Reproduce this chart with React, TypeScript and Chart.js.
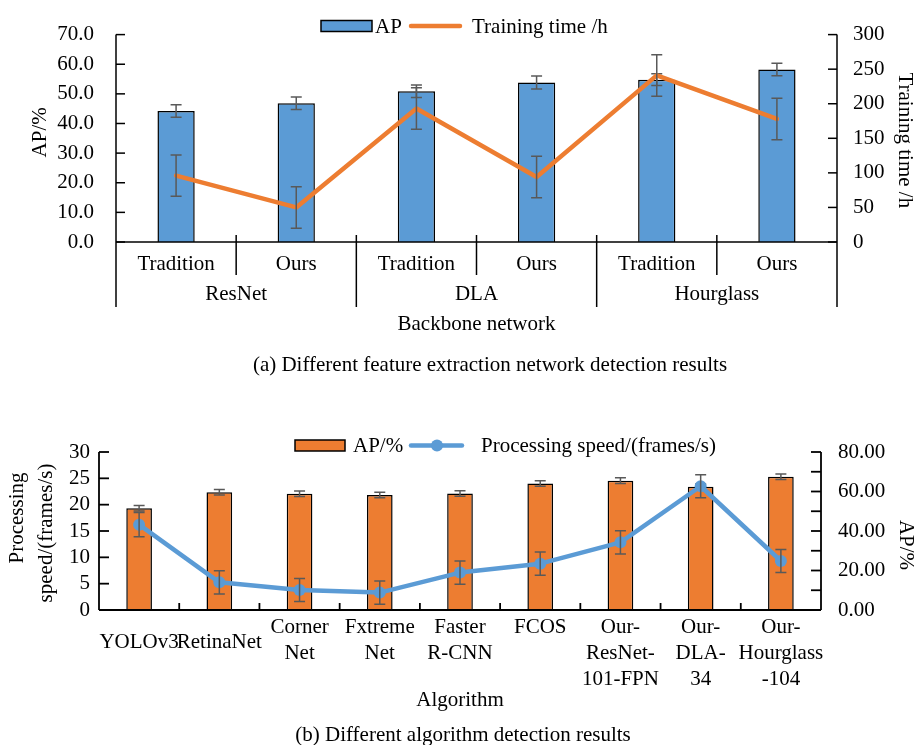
import React, { useEffect, useRef } from 'react';
import { Chart, registerables } from 'chart.js';

Chart.register(...registerables);

// ---------- Data: (a) backbone comparison ----------
const backboneCategories = ['Tradition', 'Ours', 'Tradition', 'Ours', 'Tradition', 'Ours'];
const backboneGroups = ['ResNet', 'DLA', 'Hourglass'];
const apBackbone = [44.2, 46.8, 50.9, 53.8, 54.8, 58.2];
const apBackboneErr = [2.1, 2.1, 2.1, 2.2, 2.0, 2.1];
const trainingTime = [96, 50, 193, 94, 241, 178];
const trainingTimeErr = [30, 30, 30, 30, 30, 30];

// ---------- Data: (b) algorithm comparison ----------
const algorithms = [
  ['YOLOv3'],
  ['RetinaNet'],
  ['Corner', 'Net'],
  ['Fxtreme', 'Net'],
  ['Faster', 'R-CNN'],
  ['FCOS'],
  ['Our-', 'ResNet-', '101-FPN'],
  ['Our-', 'DLA-', '34'],
  ['Our-', 'Hourglass', '-104'],
];
const apAlgorithm = [51.5, 59.6, 58.9, 58.2, 59.0, 64.0, 65.5, 62.4, 67.5];
const apAlgorithmErr = [1.4, 1.4, 1.4, 1.4, 1.4, 1.4, 1.4, 1.4, 1.4];
const speed = [16.2, 5.25, 3.8, 3.3, 7.1, 8.8, 12.85, 23.5, 9.3];
const speedErr = [2.3, 2.2, 2.2, 2.2, 2.2, 2.2, 2.2, 2.2, 2.2];

// ---------- Style ----------
const FONT = '"Liberation Serif", "Times New Roman", Times, serif';
const FS = 21;
const BLUE = '#5B9BD5';
const ORANGE = '#ED7D31';
const ERR = '#595959';

Chart.defaults.font.family = FONT;
Chart.defaults.font.size = FS;
Chart.defaults.color = '#000';

const errorBarPlugin = {
  id: 'errorBars',
  afterDatasetDraw(chart: any, args: any) {
    const ds = chart.data.datasets[args.index];
    const errs = ds.errors;
    if (!errs) return;
    const meta = args.meta;
    const scale = chart.scales[meta.yAxisID];
    const ctx = chart.ctx;
    ctx.save();
    ctx.strokeStyle = ERR;
    ctx.lineWidth = 1.5;
    meta.data.forEach((el: any, i: number) => {
      const v = ds.data[i];
      const e = errs[i];
      const x = el.x;
      const yTop = scale.getPixelForValue(v + e);
      const yBot = scale.getPixelForValue(v - e);
      ctx.beginPath();
      ctx.moveTo(x, yTop); ctx.lineTo(x, yBot);
      ctx.moveTo(x - 5.5, yTop); ctx.lineTo(x + 5.5, yTop);
      ctx.moveTo(x - 5.5, yBot); ctx.lineTo(x + 5.5, yBot);
      ctx.stroke();
    });
    ctx.restore();
  },
};

function seg(ctx: CanvasRenderingContext2D, x1: number, y1: number, x2: number, y2: number) {
  ctx.beginPath();
  ctx.moveTo(x1, y1);
  ctx.lineTo(x2, y2);
  ctx.stroke();
}

function rotText(ctx: CanvasRenderingContext2D, text: string, x: number, y: number, angle: number) {
  ctx.save();
  ctx.translate(x, y);
  ctx.rotate(angle);
  ctx.textAlign = 'center';
  ctx.textBaseline = 'middle';
  ctx.fillText(text, 0, 0);
  ctx.restore();
}

const decorA = {
  id: 'decorA',
  afterDraw(chart: any) {
    const { ctx, chartArea } = chart;
    const { left, right, top, bottom } = chartArea;
    const { x, y, y1 } = chart.scales;
    ctx.save();
    ctx.strokeStyle = '#000';
    ctx.lineWidth = 1.5;
    seg(ctx, left, top, left, bottom + 65);
    seg(ctx, right, top, right, bottom + 65);
    seg(ctx, left, bottom, right, bottom);
    y.ticks.forEach((t: any) => { const p = y.getPixelForValue(t.value); seg(ctx, left, p, left + 9, p); });
    y1.ticks.forEach((t: any) => { const p = y1.getPixelForValue(t.value); seg(ctx, right - 9, p, right, p); });
    const n = backboneCategories.length;
    for (let i = 0; i < n - 1; i++) {
      const bx = (x.getPixelForValue(i) + x.getPixelForValue(i + 1)) / 2;
      const long = i % 2 === 1;
      seg(ctx, bx, bottom - 7, bx, bottom + (long ? 65 : 33));
    }
    ctx.fillStyle = '#000';
    ctx.font = `${FS}px ${FONT}`;
    ctx.textAlign = 'center';
    ctx.textBaseline = 'middle';
    backboneCategories.forEach((c, i) => ctx.fillText(c, x.getPixelForValue(i), bottom + 22));
    backboneGroups.forEach((g, gi) => {
      const cx = (x.getPixelForValue(gi * 2) + x.getPixelForValue(gi * 2 + 1)) / 2;
      ctx.fillText(g, cx, bottom + 52);
    });
    ctx.fillText('Backbone network', (left + right) / 2, bottom + 82);
    ctx.fillText('(a) Different feature extraction network detection results', 490, 365);

    // axis titles
    rotText(ctx, 'AP/%', 40, (top + bottom) / 2 - 6, -Math.PI / 2);
    rotText(ctx, 'Training time /h', 905, (top + bottom) / 2 + 2, Math.PI / 2);

    // legend
    const ly = 26;
    ctx.fillStyle = BLUE;
    ctx.fillRect(321, ly - 5.5, 51, 11);
    ctx.strokeStyle = '#000';
    ctx.lineWidth = 1.5;
    ctx.strokeRect(321, ly - 5.5, 51, 11);
    ctx.fillStyle = '#000';
    ctx.textAlign = 'left';
    ctx.fillText('AP', 375, ly + 1);
    ctx.strokeStyle = ORANGE;
    ctx.lineWidth = 4.5;
    ctx.lineCap = 'round';
    seg(ctx, 411, ly, 460, ly);
    ctx.fillText('Training time /h', 472, ly + 1);
    ctx.restore();
  },
};

const decorB = {
  id: 'decorB',
  afterDraw(chart: any) {
    const { ctx, chartArea } = chart;
    const { left, right, top, bottom } = chartArea;
    const { x, y, y1 } = chart.scales;
    ctx.save();
    ctx.strokeStyle = '#000';
    ctx.lineWidth = 1.8;
    seg(ctx, left, top, left, bottom);
    seg(ctx, right, top, right, bottom);
    seg(ctx, left, bottom, right, bottom);
    y.ticks.forEach((t: any) => { const p = y.getPixelForValue(t.value); seg(ctx, left, p, left + 10, p); });
    y1.ticks.forEach((t: any) => { const p = y1.getPixelForValue(t.value); seg(ctx, right - 10, p, right, p); });
    const n = algorithms.length;
    for (let i = 0; i < n - 1; i++) {
      const bx = (x.getPixelForValue(i) + x.getPixelForValue(i + 1)) / 2;
      seg(ctx, bx, bottom - 7, bx, bottom);
    }
    ctx.fillStyle = '#000';
    ctx.font = `${FS}px ${FONT}`;
    ctx.textAlign = 'center';
    ctx.textBaseline = 'middle';
    const lineGap = 26.3;
    algorithms.forEach((lines, i) => {
      const cx = x.getPixelForValue(i);
      const shift = i < 2 ? 15 : 0;
      lines.forEach((l, k) => ctx.fillText(l, cx, bottom + 17 + shift + k * lineGap));
    });
    ctx.fillText('Algorithm', (left + right) / 2, bottom + 90);
    ctx.fillText('(b) Different algorithm detection results', 463, 345);

    // axis titles
    const mid = (top + bottom) / 2;
    rotText(ctx, 'Processing', 17, mid - 13, -Math.PI / 2);
    rotText(ctx, 'speed/(frames/s)', 46, mid + 2, -Math.PI / 2);
    rotText(ctx, 'AP/%', 906, mid + 14, Math.PI / 2);

    // legend
    const ly = 55.5;
    ctx.fillStyle = ORANGE;
    ctx.fillRect(295, ly - 5.5, 50, 11);
    ctx.strokeStyle = '#000';
    ctx.lineWidth = 1.5;
    ctx.strokeRect(295, ly - 5.5, 50, 11);
    ctx.fillStyle = '#000';
    ctx.textAlign = 'left';
    ctx.fillText('AP/%', 353, ly + 1);
    ctx.strokeStyle = BLUE;
    ctx.lineWidth = 4.5;
    ctx.lineCap = 'round';
    seg(ctx, 411, ly, 462, ly);
    ctx.fillStyle = BLUE;
    ctx.beginPath();
    ctx.arc(437, ly, 6, 0, Math.PI * 2);
    ctx.fill();
    ctx.fillStyle = '#000';
    ctx.fillText('Processing speed/(frames/s)', 481, ly + 1);
    ctx.restore();
  },
};

const hiddenGrid = { display: false, drawTicks: false };
const noBorder = { display: false };
const tickFont = { size: FS, family: FONT };

function configA(): any {
  return {
    type: 'bar',
    data: {
      labels: backboneCategories,
      datasets: [
        {
          type: 'bar', label: 'AP', data: apBackbone, yAxisID: 'y',
          backgroundColor: BLUE, borderColor: '#000', borderWidth: 1.5,
          barPercentage: 0.31, categoryPercentage: 1, order: 2, errors: apBackboneErr,
        },
        {
          type: 'line', label: 'Training time /h', data: trainingTime, yAxisID: 'y1',
          borderColor: ORANGE, borderWidth: 4.5, pointRadius: 0, tension: 0,
          borderCapStyle: 'round', borderJoinStyle: 'round', order: 1, errors: trainingTimeErr,
        },
      ],
    },
    options: {
      responsive: false, animation: false, devicePixelRatio: 1,
      layout: { padding: { top: 20, left: 0, right: 0, bottom: 0 } },
      plugins: { legend: { display: false }, tooltip: { enabled: false } },
      scales: {
        x: {
          type: 'category', offset: true, grid: hiddenGrid, border: noBorder,
          ticks: { display: false },
          afterFit: (s: any) => { s.height = 148; },
        },
        y: {
          position: 'left', min: 0, max: 70,
          ticks: { stepSize: 10, autoSkip: false, padding: 22, color: '#000', font: tickFont, callback: (v: any) => Number(v).toFixed(1) },
          grid: hiddenGrid, border: noBorder,
          afterFit: (s: any) => { s.width = 116; },
        },
        y1: {
          position: 'right', min: 0, max: 300,
          ticks: { stepSize: 50, autoSkip: false, padding: 16, color: '#000', font: tickFont },
          grid: hiddenGrid, border: noBorder,
          afterFit: (s: any) => { s.width = 79; },
        },
      },
    },
    plugins: [errorBarPlugin, decorA],
  };
}

function configB(): any {
  return {
    type: 'bar',
    data: {
      labels: algorithms,
      datasets: [
        {
          type: 'bar', label: 'AP/%', data: apAlgorithm, yAxisID: 'y1',
          backgroundColor: ORANGE, borderColor: '#000', borderWidth: 1.5,
          barPercentage: 0.32, categoryPercentage: 1, order: 2, errors: apAlgorithmErr,
        },
        {
          type: 'line', label: 'Processing speed/(frames/s)', data: speed, yAxisID: 'y',
          borderColor: BLUE, borderWidth: 4.5, pointRadius: 6, pointBackgroundColor: BLUE,
          pointBorderWidth: 0, tension: 0, borderJoinStyle: 'round', order: 1, errors: speedErr,
        },
      ],
    },
    options: {
      responsive: false, animation: false, devicePixelRatio: 1,
      layout: { padding: { top: 62, left: 0, right: 0, bottom: 0 } },
      plugins: { legend: { display: false }, tooltip: { enabled: false } },
      scales: {
        x: {
          type: 'category', offset: true, grid: hiddenGrid, border: noBorder,
          ticks: { display: false },
          afterFit: (s: any) => { s.height = 135; },
        },
        y: {
          position: 'left', min: 0, max: 30,
          ticks: { stepSize: 5, autoSkip: false, padding: 9, color: '#000', font: tickFont },
          grid: hiddenGrid, border: noBorder,
          afterFit: (s: any) => { s.width = 99; },
        },
        y1: {
          position: 'right', min: 0, max: 80,
          ticks: {
            stepSize: 10, autoSkip: false, padding: 17, color: '#000', font: tickFont,
            callback: (v: any) => (Number(v) % 20 === 0 ? Number(v).toFixed(2) : ''),
          },
          grid: hiddenGrid, border: noBorder,
          afterFit: (s: any) => { s.width = 95; },
        },
      },
    },
    plugins: [errorBarPlugin, decorB],
  };
}

export default function App() {
  const refA = useRef<HTMLCanvasElement>(null);
  const refB = useRef<HTMLCanvasElement>(null);
  useEffect(() => {
    const a = new Chart(refA.current as HTMLCanvasElement, configA());
    const b = new Chart(refB.current as HTMLCanvasElement, configB());
    return () => {
      a.destroy();
      b.destroy();
    };
  }, []);
  return (
    <div style={{ position: 'absolute', left: 0, top: 0, width: 916, height: 745, background: '#fff' }}>
      <canvas ref={refA} width={916} height={390} style={{ position: 'absolute', left: 0, top: 0, width: 916, height: 390, display: 'block' }} />
      <canvas ref={refB} width={916} height={355} style={{ position: 'absolute', left: 0, top: 390, width: 916, height: 355, display: 'block' }} />
    </div>
  );
}
